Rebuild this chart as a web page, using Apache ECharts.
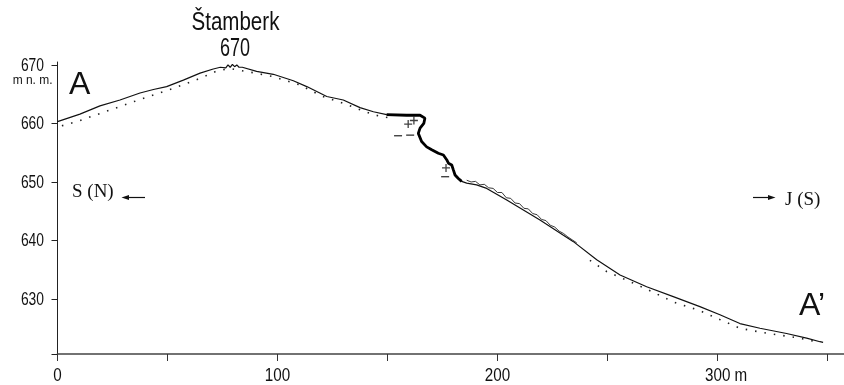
<!DOCTYPE html>
<html>
<head>
<meta charset="utf-8">
<script src="https://cdn.jsdelivr.net/npm/echarts@6/dist/echarts.min.js"></script>
<style>
html,body{margin:0;padding:0;background:#fff;}
#c{width:844px;height:385px;}
</style>
</head>
<body>
<div id="c"></div>
<script>
// Distance along profile (m) and elevation (m n. m.) of the surface line
const profileX = [0, 10.2, 19.3, 28.4, 37.5, 43.6, 49.6, 57.2, 64.8, 70.8, 74, 76.5, 77.5, 78.5, 79.5, 80.5, 81.5, 82.5, 84, 90.5, 98.1, 107.2, 113.3, 122.4, 129.9, 137.5, 143.6, 149.6, 158.7, 164.8, 167, 166.5, 164.8, 164, 165.5, 167.8, 170.1, 173.1, 175.4, 176.9, 177.7, 179.2, 179.9, 180.7, 182.2, 183.7, 186, 190.5, 195.1, 204.2, 219.3, 234.5, 245.1, 255.7, 267.8, 279.9, 292, 301.1, 310.2, 319.3, 331.4, 340.5, 346.6, 348];
const profileY = [660.3, 661.6, 663.0, 664.0, 665.2, 665.8, 666.3, 667.4, 668.6, 669.3, 669.6, 669.5, 670.0, 669.6, 670.1, 669.7, 670.0, 669.6, 669.6, 668.9, 668.4, 667.3, 666.3, 664.6, 664.0, 662.7, 662.0, 661.5, 661.4, 661.4, 660.9, 660.0, 659.2, 658.3, 656.9, 656.0, 655.5, 654.9, 654.6, 653.8, 653.2, 652.9, 652.1, 651.2, 650.6, 650.1, 649.8, 649.5, 648.9, 646.9, 643.5, 639.8, 636.7, 634.1, 632.1, 630.4, 628.7, 627.3, 625.8, 625.0, 624.1, 623.3, 622.7, 622.6];
// Dotted (older) profile; null marks the gap
const dottedX = [2, 8.7, 19.3, 34.5, 52.6, 64.8, 72, 78, 90, 98, 110, 120, 131.6, 143.5, 150, 200, 242, 249.6, 260, 270, 279.9, 292, 301, 310.2, 320, 337.5, 345];
const dottedY = [659.6, 660.3, 661.7, 663.7, 666.0, 667.7, 668.9, 669.4, 668.6, 668.0, 666.6, 664.7, 663.2, 661.5, 661.0, null, 636.6, 634.7, 633.0, 631.3, 629.5, 628.0, 626.5, 625.0, 624.3, 623.3, 622.7];
// Rock outcrop squiggle above the slope
const squiggleX = [186, 188, 190, 192, 194, 196, 198, 200, 202, 204, 206, 208, 210, 212, 214, 216, 218, 220, 222, 224, 226, 228, 230, 232, 234, 236];
const squiggleY = [650.3, 650.0, 650.1, 649.5, 649.6, 649.0, 648.9, 648.2, 648.2, 647.3, 647.2, 646.4, 646.3, 645.5, 645.4, 644.6, 644.4, 643.6, 643.4, 642.6, 642.3, 641.6, 641.2, 640.6, 640.1, 639.6];
// Wall (bold) section range
const wallRange = [148, 185];
// Geological signs near the wall
const plusX = [159.4, 162.0, 176.6];
const plusY = [659.9, 660.5, 652.4];
const minusX = [154.8, 160.3, 176.2];
const minusY = [657.9, 658.0, 650.9];
// Axis ticks and labels
const xTicks = [0, 50, 100, 150, 200, 250, 300, 350];
const xLabels = [0, 100, 200, 300];
const xUnit = ' m';
const yTicks = [620.6, 630, 640, 650, 660, 670];
const yLabels = [630, 640, 650, 660, 670];
const X_MIN = 0, X_MAX = 357.5, Y_MIN = 620.6, Y_MAX = 670.5;

const zip = (a, b) => a.map((v, i) => [v, b[i] === null ? '-' : b[i]]);
const profile = zip(profileX, profileY);
const wall = profile.filter(p => p[0] >= wallRange[0] && p[0] <= wallRange[1]);

const sans = "'Liberation Sans', Arial, sans-serif";
const serif = "'Liberation Serif', 'Times New Roman', serif";

const chart = echarts.init(document.getElementById('c'), null, {renderer: 'canvas'});
chart.setOption({
  animation: false,
  backgroundColor: '#fff',
  grid: {left: 57.5, right: 0, top: 62, bottom: 31, containLabel: false},
  xAxis: {
    type: 'value', min: X_MIN, max: X_MAX,
    axisLine: {show: true, lineStyle: {color: '#444', width: 1.6}},
    axisTick: {show: true, customValues: xTicks, length: 7, lineStyle: {color: '#333', width: 1}},
    axisLabel: {show: false},
    splitLine: {show: false}
  },
  yAxis: {
    type: 'value', min: Y_MIN, max: Y_MAX,
    axisLine: {show: true, lineStyle: {color: '#222', width: 1}},
    axisTick: {show: true, customValues: yTicks, length: 6, lineStyle: {color: '#222', width: 1}},
    axisLabel: {show: false},
    splitLine: {show: false}
  },
  series: [
    {type: 'line', data: zip(dottedX, dottedY), symbol: 'none', connectNulls: false,
     lineStyle: {color: '#222', width: 1.6, type: [1.5, 8]}, z: 2},
    {type: 'line', data: profile, symbol: 'none', lineStyle: {color: '#111', width: 1.2}, z: 3},
    {type: 'line', data: wall, symbol: 'none', lineStyle: {color: '#000', width: 2.8}, z: 4},
    {type: 'line', data: zip(squiggleX, squiggleY), symbol: 'none', lineStyle: {color: '#222', width: 0.9}, z: 3},
    {type: 'scatter', data: zip(plusX, plusY), symbol: 'path://M0,5H10M5,0V10', symbolSize: 8,
     itemStyle: {color: 'none', borderColor: '#111', borderWidth: 1.3}, z: 5},
    {type: 'scatter', data: zip(minusX, minusY), symbol: 'rect', symbolSize: [8, 1.4],
     itemStyle: {color: '#111'}, z: 5}
  ]
});

// Condensed tick labels placed through the chart's own scales
const px = (x, y) => chart.convertToPixel({gridIndex: 0}, [x, y]);
const elements = [];
const xAxisY = px(X_MIN, Y_MIN)[1];
yLabels.forEach((v, i) => {
  const p = px(X_MIN, v);
  elements.push({type: 'text', id: 'yl' + i, x: p[0] - 13.5, y: p[1] + 1, scaleX: 0.77,
    style: {text: String(v), font: '18px ' + sans, fill: '#111', textAlign: 'right', textVerticalAlign: 'middle'}});
});
xLabels.forEach((v, i) => {
  const p = px(v, Y_MIN);
  const last = i === xLabels.length - 1;
  elements.push({type: 'text', id: 'xl' + i, x: last ? p[0] - 12.5 : p[0], y: xAxisY + 22, scaleX: 0.8,
    style: {text: String(v) + (last ? xUnit : ''), font: '19px ' + sans, fill: '#111',
      textAlign: last ? 'left' : 'center', textVerticalAlign: 'middle'}});
});
// Annotations
elements.push(
  {type: 'text', id: 't1', x: 191.5, y: 10, scaleX: 0.79, style: {text: 'Štamberk', font: '26px ' + sans, fill: '#111'}},
  {type: 'text', id: 't2', x: 220, y: 37, scaleX: 0.72, style: {text: '670', font: '25px ' + sans, fill: '#111'}},
  {type: 'text', id: 't3', x: 52.5, y: 74, scaleX: 0.92, style: {text: 'm n. m.', font: '13px ' + sans, fill: '#111', textAlign: 'right'}},
  {type: 'text', id: 't4', x: 69, y: 69, style: {text: 'A', font: '32px ' + sans, fill: '#111'}},
  {type: 'text', id: 't5', x: 799, y: 290, style: {text: 'A’', font: '32px ' + sans, fill: '#111'}},
  {type: 'text', id: 't6', x: 72, y: 183, style: {text: 'S (N)', font: '19px ' + serif, fill: '#111'}},
  {type: 'text', id: 't7', x: 785, y: 191, style: {text: 'J (S)', font: '19px ' + serif, fill: '#111'}},
  {type: 'line', id: 'a1', shape: {x1: 127, y1: 197.5, x2: 145, y2: 197.5}, style: {stroke: '#111', lineWidth: 1.2}},
  {type: 'polygon', id: 'a1h', shape: {points: [[121.5, 197.5], [129, 195], [129, 200]]}, style: {fill: '#111'}},
  {type: 'line', id: 'a2', shape: {x1: 753, y1: 197.5, x2: 770, y2: 197.5}, style: {stroke: '#111', lineWidth: 1.2}},
  {type: 'polygon', id: 'a2h', shape: {points: [[775.5, 197.5], [768, 195], [768, 200]]}, style: {fill: '#111'}}
);
chart.setOption({graphic: {elements: elements}});
</script>
</body>
</html>
